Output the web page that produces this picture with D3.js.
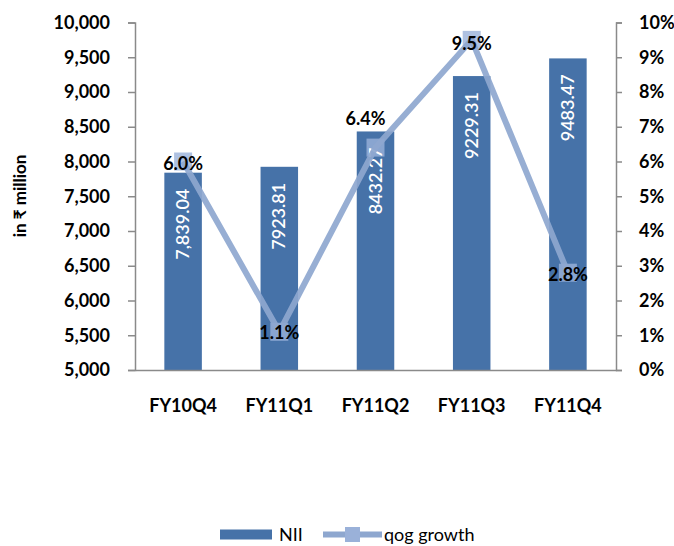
<!DOCTYPE html>
<html>
<head>
<meta charset="utf-8">
<script src="https://cdn.jsdelivr.net/npm/d3@7"></script>
<style>
  html, body { margin: 0; padding: 0; background: #fff; }
  svg { display: block; font-family: Lato, "Noto Sans", sans-serif; }
</style>
</head>
<body>
<svg id="chart" width="674" height="546"></svg>
<script>
// Quarterly net interest income (₹ million) and quarter-on-quarter growth
const quarters = ["FY10Q4", "FY11Q1", "FY11Q2", "FY11Q3", "FY11Q4"];
const nii = [7839.04, 7923.81, 8432.27, 9229.31, 9483.47];
const niiLabels = ["7,839.04", "7923.81", "8432.27", "9229.31", "9483.47"];
const qogGrowth = [0.060, 0.011, 0.064, 0.095, 0.028];
const growthLabels = ["6.0%", "1.1%", "6.4%", "9.5%", "2.8%"];
const leftTicks = [5000, 5500, 6000, 6500, 7000, 7500, 8000, 8500, 9000, 9500, 10000];
const rightTicks = [0, 0.01, 0.02, 0.03, 0.04, 0.05, 0.06, 0.07, 0.08, 0.09, 0.10];

const barColor = "#4672a8";
const lineColor = "#8ea7cf";
const markerColor = "#9ab1d9";
const axisColor = "#8a8a8a";

const svg = d3.select("#chart");
const plotLeft = 135, plotRight = 616, plotTop = 22.5, plotBottom = 370;

const x = d3.scaleBand().domain(quarters).range([plotLeft, plotRight])
  .paddingInner(0.61).paddingOuter(0.305);
const yL = d3.scaleLinear().domain([5000, 10000]).range([plotBottom, plotTop]);
const yR = d3.scaleLinear().domain([0, 0.10]).range([plotBottom, plotTop]);
const cx = i => x(quarters[i]) + x.bandwidth() / 2;

// Bars
svg.append("g").selectAll("rect").data(nii).join("rect")
  .attr("x", (d, i) => x(quarters[i]))
  .attr("y", d => yL(d))
  .attr("width", x.bandwidth())
  .attr("height", d => plotBottom - yL(d))
  .attr("fill", barColor);

// Growth markers: translucent squares
const ms = 18;
svg.append("g").selectAll("rect").data(qogGrowth).join("rect")
  .attr("x", (d, i) => cx(i) - ms / 2)
  .attr("y", d => yR(d) - ms / 2)
  .attr("width", ms).attr("height", ms)
  .attr("fill", markerColor).attr("fill-opacity", 0.8);

// Bar value labels, rotated inside the top of each bar
svg.append("g").selectAll("text").data(nii).join("text")
  .attr("transform", (d, i) => `translate(${cx(i) + 6},${yL(d) + 16}) rotate(-90)`)
  .attr("text-anchor", "end")
  .attr("fill", "#fff")
  .attr("font-size", 18)
  .attr("font-weight", 600)
  .text((d, i) => niiLabels[i]);

// Axes
const axL = svg.append("g").attr("transform", `translate(${plotLeft},0)`)
  .call(d3.axisLeft(yL).tickValues(leftTicks).tickSize(7).tickPadding(18).tickFormat(d3.format(",")));
const axR = svg.append("g").attr("transform", `translate(${plotRight},0)`)
  .call(d3.axisRight(yR).tickValues(rightTicks).tickSize(6).tickPadding(17).tickFormat(d3.format(".0%")));
[axL, axR].forEach(a => {
  a.select(".domain").attr("stroke", axisColor).attr("stroke-width", 1.5);
  a.selectAll(".tick line").attr("stroke", axisColor).attr("stroke-width", 1.5);
  a.selectAll(".tick text").attr("fill", "#000").attr("font-size", 18).attr("font-weight", 700)
    .attr("font-family", "Lato, 'Noto Sans', sans-serif");
});

// Category axis
const axX = svg.append("g").attr("transform", `translate(0,${plotBottom})`)
  .call(d3.axisBottom(x).tickSize(0).tickPadding(29));
axX.select(".domain").attr("stroke", axisColor).attr("stroke-width", 1.5);
axX.selectAll(".tick text").attr("fill", "#000").attr("font-size", 18).attr("font-weight", 700)
  .attr("font-family", "Lato, 'Noto Sans', sans-serif");

// Growth line, drawn across the markers
const line = d3.line().x((d, i) => cx(i)).y(d => yR(d));
svg.append("path").datum(qogGrowth)
  .attr("d", line).attr("fill", "none")
  .attr("stroke", lineColor).attr("stroke-width", 6).attr("stroke-linejoin", "round")
  .attr("stroke-opacity", 0.92);

// Growth labels
const labelOffset = [[0, 8], [0, 7], [-10, -23], [0, 10], [0, 8]];
svg.append("g").selectAll("text").data(qogGrowth).join("text")
  .attr("x", (d, i) => cx(i) + labelOffset[i][0])
  .attr("y", (d, i) => yR(d) + labelOffset[i][1])
  .attr("text-anchor", "middle")
  .attr("font-size", 18).attr("font-weight", 700).attr("fill", "#000")
  .text((d, i) => growthLabels[i]);

// Y-axis title
svg.append("text")
  .attr("transform", "translate(26,196) rotate(-90)")
  .attr("text-anchor", "middle")
  .attr("font-size", 17).attr("font-weight", 700).attr("fill", "#000")
  .text("in ₹ million");

// Legend
const lg = svg.append("g");
lg.append("rect").attr("x", 220).attr("y", 529.5).attr("width", 52).attr("height", 10).attr("fill", barColor);
lg.append("text").attr("x", 279).attr("y", 541).attr("font-size", 18).attr("fill", "#000").text("NII");
lg.append("line").attr("x1", 323).attr("x2", 382).attr("y1", 534.5).attr("y2", 534.5)
  .attr("stroke", lineColor).attr("stroke-width", 6);
lg.append("rect").attr("x", 345).attr("y", 527).attr("width", 15).attr("height", 15).attr("fill", markerColor);
lg.append("text").attr("x", 384).attr("y", 541).attr("font-size", 18).attr("fill", "#000").text("qog growth");
</script>
</body>
</html>
